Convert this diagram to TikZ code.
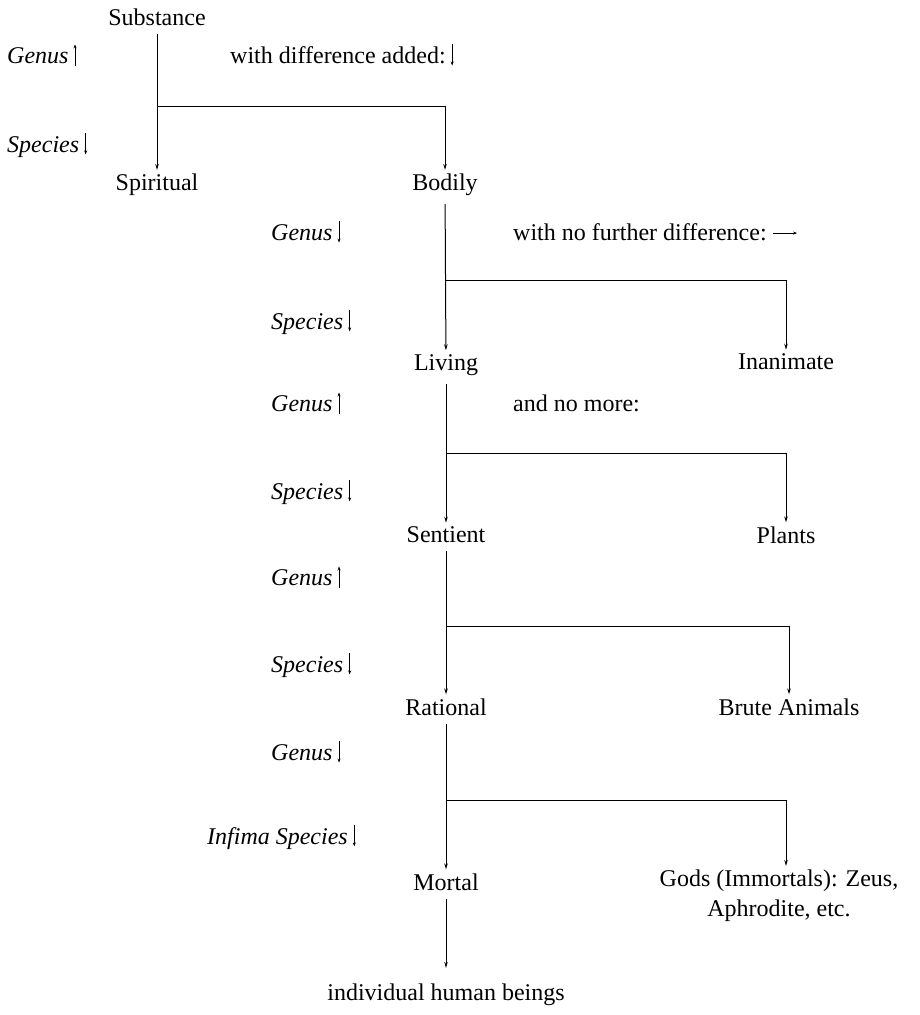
\documentclass[tikz,border=0pt]{standalone}
\usepackage{fontspec}
\setmainfont{Liberation Serif}
\usetikzlibrary{arrows.meta, positioning, calc}

% small arrows that sit beside the labels
\newcommand{\uparr}{\kern5pt\tikz[baseline=0pt]\draw[line width=0.8pt, -{Stealth[length=4pt, width=3pt]}] (0,-0.1em) -- (0,0.78em);}
\newcommand{\downarr}{\kern5pt\tikz[baseline=0pt]\draw[line width=0.8pt, -{Stealth[length=4pt, width=3pt]}] (0,0.78em) -- (0,-0.1em);}
\newcommand{\rightarr}{\kern6pt\tikz[baseline=-0.3em]\draw[line width=0.8pt, -{Stealth[length=4pt, width=3pt]}] (0,0) -- (1em,0);}

\begin{document}
\begin{tikzpicture}[
    x=1pt, y=-1pt,
    >={Stealth[length=6pt, width=3.5pt]},
    every node/.style={font=\fontsize{24}{30}\selectfont, inner sep=0pt},
    term/.style={anchor=center},
    side/.style={anchor=west, font=\fontsize{24}{30}\selectfont\itshape},
    note/.style={anchor=west},
    link/.style={line width=1pt, ->},
]
    \useasboundingbox (0,0) rectangle (919,1015);

    % terms of the tree
    \node[term] (subst)    at (157, 17)  {Substance};
    \node[term] (spirit)   at (157, 185) {Spiritual};
    \node[term] (bodily)   at (445, 185) {Bodily};
    \node[term] (living)   at (446, 365) {Living};
    \node[term] (inanim)   at (786, 362) {Inanimate};
    \node[term] (sentient) at (446, 535) {Sentient};
    \node[term] (plants)   at (786, 535) {Plants};
    \node[term] (rational) at (446, 707) {Rational};
    \node[term] (brute)    at (789, 707) {Brute Animals};
    \node[term] (mortal)   at (446, 882) {Mortal};
    \node[term, align=center, anchor=north] (gods) at (779, 870) {Gods (Immortals): Zeus,\\Aphrodite, etc.};
    \node[term] (humans)   at (446, 995) {individual human beings};

    % side labels
    \node[side] (g1) at (7, 55)    {Genus\uparr};
    \node[side] (s1) at (7, 145)   {Species\downarr};
    \node[side] (g2) at (271, 232) {Genus\downarr};
    \node[side] (s2) at (271, 322) {Species\downarr};
    \node[side] (g3) at (271, 403) {Genus\uparr};
    \node[side] (s3) at (271, 492) {Species\downarr};
    \node[side] (g4) at (271, 577) {Genus\uparr};
    \node[side] (s4) at (271, 665) {Species\downarr};
    \node[side] (g5) at (271, 752) {Genus\downarr};
    \node[side, anchor=east] (s5) at (356, 837) {Infima Species\downarr};

    % notes on the differences
    \node[note] (n1) at (230, 55)  {with difference added:\downarr};
    \node[note] (n2) at (513, 232) {with no further difference:\rightarr};
    \node[note] (n3) at (513, 403) {and no more:};

    % junctions
    \coordinate (j1) at (157, 106);
    \coordinate (j2) at (446, 280);
    \coordinate (j3) at (446, 453);
    \coordinate (j4) at (446, 626);
    \coordinate (j5) at (446, 800);

    % divisions
    \draw[link, shorten <=8pt, shorten >=4pt] (subst) -- (spirit);
    \draw[link, shorten >=4pt] (j1) -| (bodily);
    \draw[link, shorten <=8pt, shorten >=4pt] (bodily) -- (living);
    \draw[link, shorten >=4pt] (j2) -| (inanim);
    \draw[link, shorten <=8pt, shorten >=4pt] (living) -- (sentient);
    \draw[link, shorten >=4pt] (j3) -| (plants.north -| inanim);
    \draw[link, shorten <=8pt, shorten >=4pt] (sentient) -- (rational);
    \draw[link, shorten >=4pt] (j4) -| (brute);
    \draw[link, shorten <=8pt, shorten >=4pt] (rational) -- (mortal);
    \draw[link, shorten >=4pt] (j5) -| (gods.north -| inanim);
    \draw[link, shorten <=8pt, shorten >=16pt] (mortal) -- (humans);
\end{tikzpicture}
\end{document}
